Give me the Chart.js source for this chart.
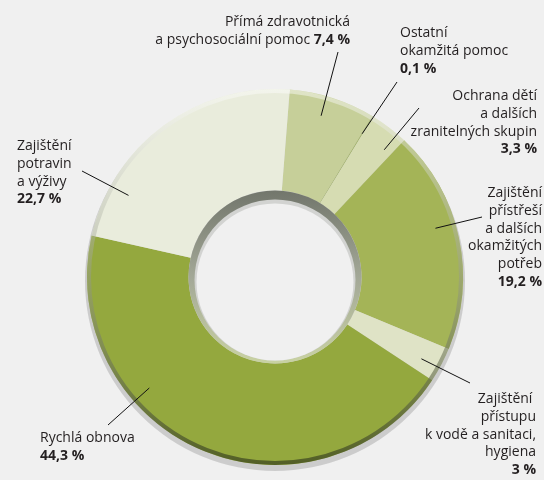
<!DOCTYPE html>
<html>
<head>
<meta charset="utf-8">
<script src="https://cdn.jsdelivr.net/npm/chart.js@4.4.1/dist/chart.umd.min.js"></script>
<style>
  html, body { margin: 0; padding: 0; background: #f0f0f0; }
  #wrap { width: 544px; height: 480px; position: relative; }
</style>
</head>
<body>
<div id="wrap"><canvas id="chart"></canvas></div>
<script>
// data
const categories = [
  "Přímá zdravotnická a psychosociální pomoc",
  "Ostatní okamžitá pomoc",
  "Ochrana dětí a dalších zranitelných skupin",
  "Zajištění přístřeší a dalších okamžitých potřeb",
  "Zajištění přístupu k vodě a sanitaci, hygiena",
  "Rychlá obnova",
  "Zajištění potravin a výživy"
];
const shares = [7.4, 0.1, 3.3, 19.2, 3, 44.3, 22.7];
const labelLines = [
  ["Přímá zdravotnická", "a psychosociální pomoc"],
  ["Ostatní", "okamžitá pomoc"],
  ["Ochrana dětí", "a dalších", "zranitelných skupin"],
  ["Zajištění", "přístřeší", "a dalších", "okamžitých", "potřeb"],
  ["Zajištění ", "přístupu", "k vodě a sanitaci,", "hygiena"],
  ["Rychlá obnova"],
  ["Zajištění", "potravin", "a výživy"]
];
const sliceColors = ["#c6cf99", "#a5b56a", "#d6dcb2", "#a4b457", "#dfe3c6", "#94a83e", "#e9ecdc"];

// label placement (text block + leader line)
const labelPos = [
  { align: "right", x: 350, y: 26, inline: true, tail: [338, 52], t: 0.43 },
  { align: "left", x: 400, y: 37, tail: [397, 82], t: 0.5 },
  { align: "right", x: 537, y: 100, tail: [419, 108], t: 0.77 },
  { align: "right", x: 542, y: 197, tail: [482, 217], t: 0.43 },
  { align: "right", x: 536, y: 403, tail: [470, 383], t: 0.62 },
  { align: "left", x: 40, y: 442, tail: [108, 425], t: 0.66 },
  { align: "left", x: 17, y: 150, tail: [82, 171], t: 0.2 }
];
const LINE_H = 17.8;
const FONT = '14px "Open Sans"';
const FONT_B = 'bold 14px "Open Sans"';

const fmt = v => String(v).replace(".", ",") + " %";

/* shadow + rims around the ring */
const shadowPlugin = {
  id: "shadow",
  beforeDatasetsDraw(chart) {
    const a = chart.getDatasetMeta(0).data[0];
    const ctx = chart.ctx;
    ctx.save();
    ctx.fillStyle = "rgba(0,0,0,0.15)";
    ctx.beginPath();
    ctx.arc(a.x, a.y + 4, a.outerRadius + 2, 0, Math.PI * 2);
    ctx.fill();
    ctx.restore();
  },
  afterDatasetsDraw(chart) {
    const a = chart.getDatasetMeta(0).data[0];
    const ctx = chart.ctx;
    const cx = a.x, cy = a.y, R = a.outerRadius, r = a.innerRadius;
    ctx.save();
    // outer rim
    let g = ctx.createLinearGradient(0, cy - R, 0, cy + R);
    g.addColorStop(0, "rgba(255,255,255,0.45)");
    g.addColorStop(0.5, "rgba(150,155,135,0.5)");
    g.addColorStop(1, "rgba(60,70,30,0.75)");
    ctx.strokeStyle = g;
    ctx.lineWidth = 4;
    ctx.beginPath();
    ctx.arc(cx, cy, R - 2, 0, Math.PI * 2);
    ctx.stroke();
    // inner wall
    g = ctx.createLinearGradient(0, cy - r, 0, cy + r);
    g.addColorStop(0, "#72766c");
    g.addColorStop(0.5, "#a3a897");
    g.addColorStop(1, "#c9d2a3");
    ctx.fillStyle = g;
    ctx.beginPath();
    ctx.arc(cx, cy, r, 0, Math.PI * 2);
    ctx.fill();
    ctx.fillStyle = "#d2d3d1";
    ctx.beginPath();
    ctx.arc(cx, cy + 3, r - 6, 0, Math.PI * 2);
    ctx.fill();
    ctx.fillStyle = "#f0f0f0";
    ctx.beginPath();
    ctx.arc(cx, cy + 5, r - 8, 0, Math.PI * 2);
    ctx.fill();
    ctx.restore();
  }
};

/* labels with leader lines */
const labelPlugin = {
  id: "labels",
  afterDraw(chart) {
    const ctx = chart.ctx;
    const arcs = chart.getDatasetMeta(0).data;
    ctx.save();
    ctx.textBaseline = "alphabetic";
    ctx.fillStyle = "#231f20";
    labelPos.forEach((p, i) => {
      const a = arcs[i];
      const ang = a.startAngle + p.t * (a.endAngle - a.startAngle);
      const rr = a.innerRadius + 0.8 * (a.outerRadius - a.innerRadius);
      ctx.strokeStyle = "#111";
      ctx.lineWidth = 1;
      ctx.beginPath();
      ctx.moveTo(p.tail[0], p.tail[1]);
      ctx.lineTo(a.x + Math.cos(ang) * rr, a.y + Math.sin(ang) * rr);
      ctx.stroke();

      const lines = labelLines[i];
      const val = fmt(shares[i]);
      lines.forEach((txt, k) => {
        const y = p.y + k * LINE_H;
        if (p.inline && k === lines.length - 1) {
          ctx.font = FONT;
          const t = txt + " ";
          const wn = ctx.measureText(t).width;
          ctx.font = FONT_B;
          const wb = ctx.measureText(val).width;
          const x0 = p.align === "right" ? p.x - wn - wb : p.x;
          ctx.textAlign = "left";
          ctx.font = FONT;
          ctx.fillText(t, x0, y);
          ctx.font = FONT_B;
          ctx.fillText(val, x0 + wn, y);
        } else {
          ctx.font = FONT;
          ctx.textAlign = p.align;
          ctx.fillText(txt, p.x, y);
        }
      });
      if (!p.inline) {
        ctx.font = FONT_B;
        ctx.textAlign = p.align;
        ctx.fillText(val, p.x, p.y + lines.length * LINE_H);
      }
    });
    ctx.restore();
  }
};

new Chart(document.getElementById("chart"), {
  type: "doughnut",
  data: {
    labels: categories,
    datasets: [{
      data: shares,
      backgroundColor: sliceColors,
      borderWidth: 0,
      hoverBorderWidth: 0,
      hoverOffset: 0
    }]
  },
  options: {
    responsive: true,
    maintainAspectRatio: false,
    animation: false,
    events: [],
    rotation: 4.5,
    cutout: "46%",
    layout: { padding: { top: 89, bottom: 15, left: 87, right: 81 } },
    plugins: { legend: { display: false }, tooltip: { enabled: false } }
  },
  plugins: [shadowPlugin, labelPlugin]
});
</script>
</body>
</html>
